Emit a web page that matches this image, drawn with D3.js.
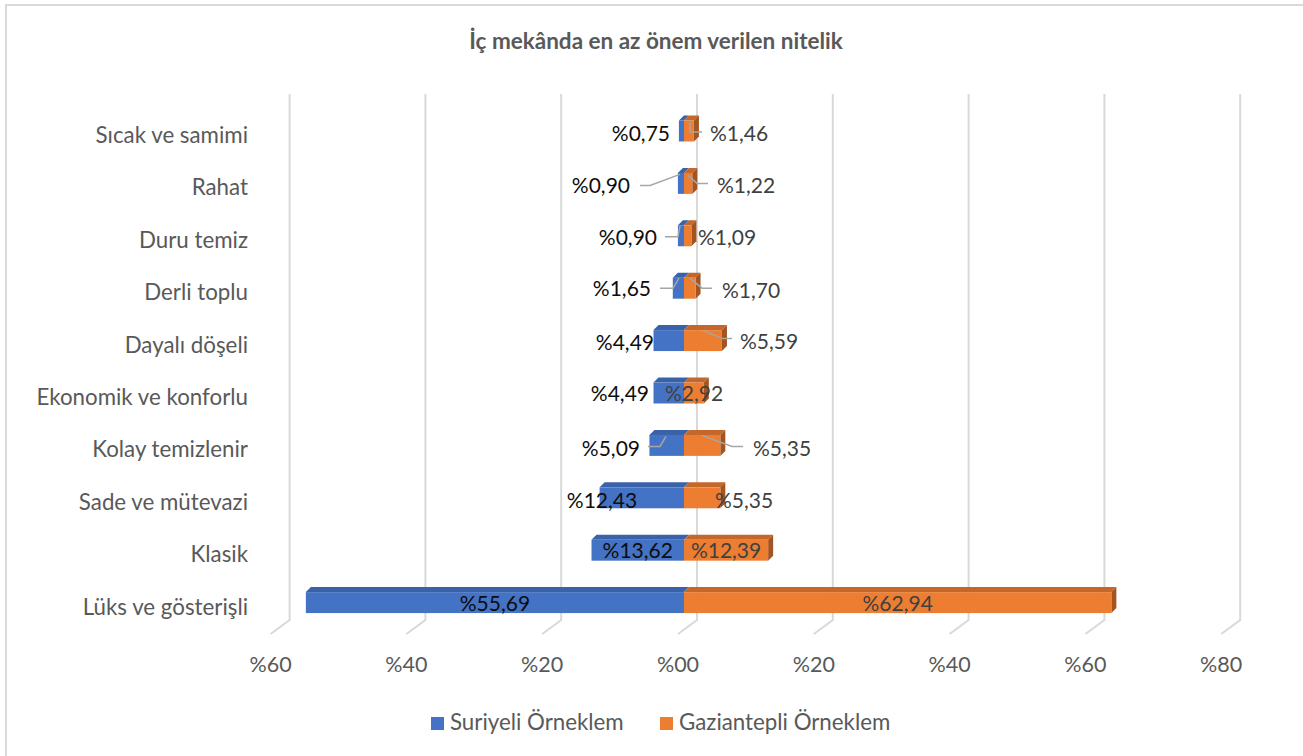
<!DOCTYPE html>
<html>
<head>
<meta charset="utf-8">
<script src="https://cdn.jsdelivr.net/npm/d3@7"></script>
<style>
  html, body { margin: 0; padding: 0; background: #fff; }
  svg { display: block; font-family: Lato, "Liberation Sans", sans-serif; }
</style>
</head>
<body>
<svg id="chart" width="1303" height="756"></svg>
<script>
// ---- data ----
const title = "İç mekânda en az önem verilen nitelik";
const categories = ["Sıcak ve samimi", "Rahat", "Duru temiz", "Derli toplu", "Dayalı döşeli",
  "Ekonomik ve konforlu", "Kolay temizlenir", "Sade ve mütevazi", "Klasik", "Lüks ve gösterişli"];
const suriyeli = [0.75, 0.90, 0.90, 1.65, 4.49, 4.49, 5.09, 12.43, 13.62, 55.69];
const gaziantepli = [1.46, 1.22, 1.09, 1.70, 5.59, 2.92, 5.35, 5.35, 12.39, 62.94];
const seriesNames = ["Suriyeli Örneklem", "Gaziantepli Örneklem"];
const tickValues = [-60, -40, -20, 0, 20, 40, 60, 80];

// ---- label layout (pixel nudges relative to zero line / row centre) ----
// [anchor, dx, dy]
const blueLabelPos = [["end",-14,2],["end",-54,2],["end",-27,1],["end",-33,0],["end",-30,1],
  ["end",-35,0],["end",-44,3],["middle",-82,2],["bar",0,0],["bar",0,0]];
const orangeLabelPos = [["start",26,2],["start",33,2],["start",14,1],["start",38,2],["start",56,0],
  ["start",-19,0],["start",69,3],["middle",60,2],["bar",0,0],["bar",0,0]];
const blueLeaders = [null, [[-44,2],[-34,2],[-4,-9]], [[-19,1],[-6,1],[-4,-10]], [[-24,0],[-11,0],[-5,-10]],
  null, null, [[-36,1],[-24,1],[-18,-9]], null, null, null];
const orangeLeaders = [[[6,-9],[6,1],[18,1]], [[4,-8],[13,0],[24,0]], null, [[6,-10],[18,0],[28,0]],
  [[19,-10],[39,-2],[48,-2]], null, [[18,-10],[48,1],[59,1]], null, null, null];

const svg = d3.select("#chart");

// chart border
svg.append("rect").attr("x", 6).attr("y", 5).attr("width", 1320).attr("height", 780)
  .attr("fill", "#fff").attr("stroke", "#D9D9D9").attr("stroke-width", 2);

const x = d3.scaleLinear().domain([-60, 80]).range([276.6, 1227.2]);
const y = d3.scaleBand().domain(categories).range([104.8, 628.8]).paddingInner(0.6).paddingOuter(0.3);

const depthX = 5, depthY = 5;     // 3D offset of back face
const gridBackDx = 13, gridFrontDx = -6;
const gridTop = 94, gridBottom = 620, floorBottom = 634;

// title
svg.append("text").attr("x", 656).attr("y", 49).attr("text-anchor", "middle")
  .attr("font-weight", "bold").attr("font-size", 22.5).attr("fill", "#595959").text(title);

// gridlines (back wall + floor)
const grid = svg.append("g").attr("fill", "none").attr("stroke", "#D9D9D9").attr("stroke-width", 2);
tickValues.forEach(t => {
  const bx = x(t) + gridBackDx, fx = x(t) + gridFrontDx;
  grid.append("path").attr("d", `M${bx},${gridTop} L${bx},${gridBottom} L${fx},${floorBottom}`);
});

// tick labels
svg.append("g").selectAll("text").data(tickValues).join("text")
  .attr("x", d => x(d) + gridFrontDx).attr("y", 672).attr("text-anchor", "middle")
  .attr("font-size", 21.5).attr("fill", "#595959")
  .text(d => "%" + String(Math.abs(d)).padStart(2, "0"));

// category labels
svg.append("g").selectAll("text").data(categories).join("text")
  .attr("x", 248).attr("y", d => y(d) + y.bandwidth() / 2 + 12).attr("text-anchor", "end")
  .attr("font-size", 22.3).attr("fill", "#595959").text(d => d);

// bars
const colors = {
  blue: { front: "#4472C4", top: "#3A62A9", side: "#30528F" },
  orange: { front: "#ED7D31", top: "#C4672A", side: "#A3541F" }
};
function drawBar(g, x1, x2, y0, h, c, showSide) {
  g.append("path").attr("fill", c.top)
    .attr("d", `M${x1},${y0} L${x2},${y0} L${x2 + depthX},${y0 - depthY} L${x1 + depthX},${y0 - depthY} Z`);
  if (showSide) {
    g.append("path").attr("fill", c.side)
      .attr("d", `M${x2},${y0} L${x2 + depthX},${y0 - depthY} L${x2 + depthX},${y0 + h - depthY} L${x2},${y0 + h} Z`);
  }
  g.append("rect").attr("x", x1).attr("y", y0).attr("width", x2 - x1).attr("height", h).attr("fill", c.front);
}
const bars = svg.append("g");
categories.forEach((cat, i) => {
  const y0 = y(cat), h = y.bandwidth();
  drawBar(bars, x(-suriyeli[i]), x(0), y0, h, colors.blue, false);
  drawBar(bars, x(0), x(gaziantepli[i]), y0, h, colors.orange, true);
});

// leader lines
const leaders = svg.append("g").attr("fill", "none").attr("stroke", "#A6A6A6").attr("stroke-width", 1.5);
function drawLeader(pts, i) {
  if (!pts) return;
  const cy = y(categories[i]) + y.bandwidth() / 2;
  leaders.append("path").attr("d", d3.line()(pts.map(p => [x(0) + p[0], cy + p[1]])));
}
blueLeaders.forEach(drawLeader);
orangeLeaders.forEach(drawLeader);

// data labels
const fmt = v => "%" + v.toFixed(2).replace(".", ",");
const labels = svg.append("g").attr("font-size", 21);
categories.forEach((cat, i) => {
  const cy = y(cat) + y.bandwidth() / 2;
  const bp = blueLabelPos[i], op = orangeLabelPos[i];
  const bx = bp[0] === "bar" ? (x(-suriyeli[i]) + x(0)) / 2 : x(0) + bp[1];
  const ox = op[0] === "bar" ? (x(gaziantepli[i]) + x(0)) / 2 : x(0) + op[1];
  labels.append("text").attr("x", bx).attr("y", cy + bp[2] + 8)
    .attr("text-anchor", bp[0] === "bar" ? "middle" : bp[0]).attr("fill", "#0D0D0D").text(fmt(suriyeli[i]));
  labels.append("text").attr("x", ox).attr("y", cy + op[2] + 8)
    .attr("text-anchor", op[0] === "bar" ? "middle" : op[0]).attr("fill", "#404040").text(fmt(gaziantepli[i]));
});

// legend
const legend = svg.append("g");
const legendItems = [{ name: seriesNames[0], c: colors.blue.front, x: 431 }, { name: seriesNames[1], c: colors.orange.front, x: 660 }];
legendItems.forEach(it => {
  legend.append("rect").attr("x", it.x).attr("y", 717).attr("width", 13).attr("height", 13).attr("fill", it.c);
  legend.append("text").attr("x", it.x + 19).attr("y", 730).attr("font-size", 22.3).attr("fill", "#595959").text(it.name);
});
</script>
</body>
</html>
